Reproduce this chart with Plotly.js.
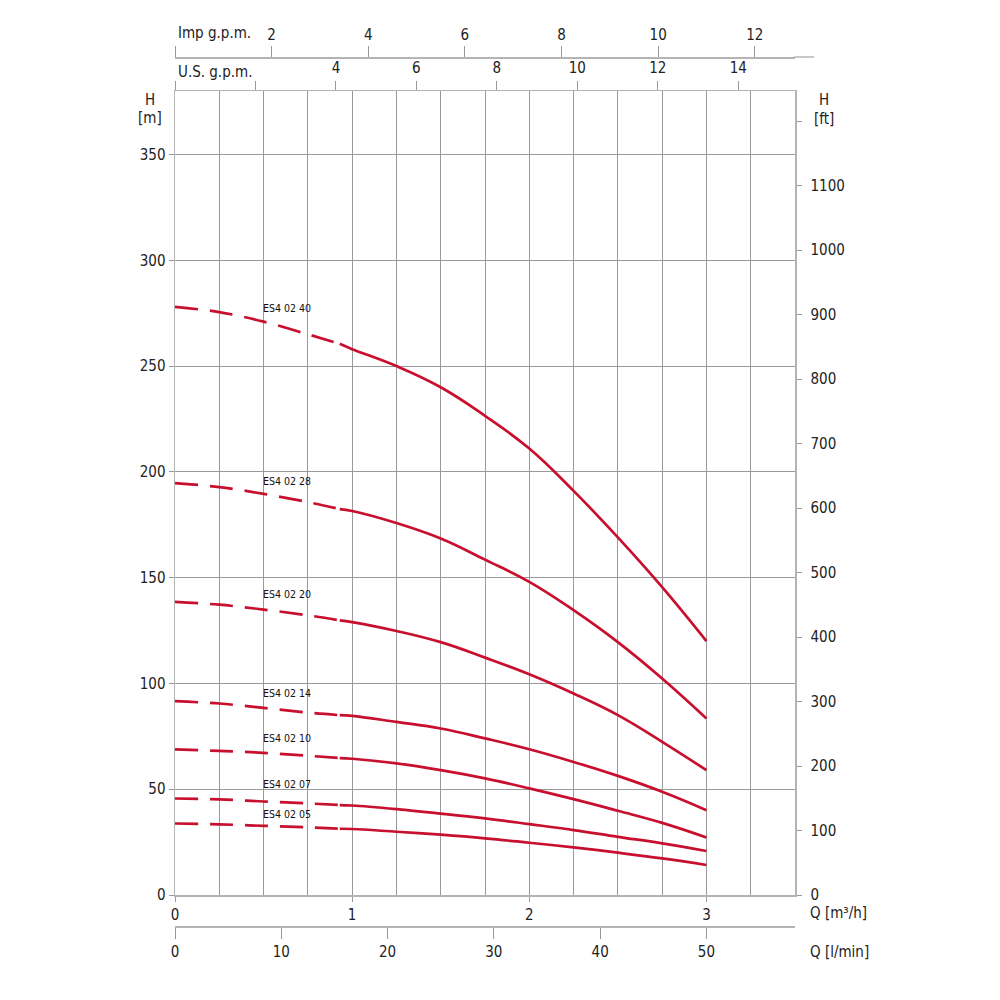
<!DOCTYPE html>
<html>
<head>
<meta charset="utf-8">
<script src="https://cdn.plot.ly/plotly-3.0.1.min.js"></script>
<style>
  html, body { margin: 0; padding: 0; background: #fff; }
  #chart { width: 1000px; height: 1000px; }
</style>
</head>
<body>
<div id="chart"></div>
<script>
// flow points, m3/h (dashed part runs up to 0.93)
var flowQ = [0, 0.25, 0.5, 0.75, 0.93, 1.0, 1.25, 1.5, 1.75, 2.0, 2.25, 2.5, 2.75, 3.0];
var splitAt = 4;

var pumpNames = ['ES4 02 40', 'ES4 02 28', 'ES4 02 20', 'ES4 02 14', 'ES4 02 10', 'ES4 02 07', 'ES4 02 05'];

// head, m
var h40 = [278, 275.5, 271, 265, 260.5, 258, 250, 240, 226.5, 211, 191, 169, 145.5, 120];
var h28 = [194.7, 192.8, 189.6, 185.7, 182.4, 181.5, 175.8, 168.5, 158.5, 148, 134.6, 119.5, 102.3, 83.4];
var h20 = [138.5, 137.2, 134.9, 132.2, 129.8, 129, 124.8, 119.5, 112.2, 104.3, 95.2, 85, 72.4, 59];
var h14 = [91.6, 90.5, 88.4, 86.2, 85.0, 84.7, 81.8, 78.7, 74, 68.9, 62.9, 56.3, 48.8, 40.1];
var h10 = [68.8, 68.1, 67.2, 65.8, 64.7, 64.4, 62.2, 59, 55.1, 50.4, 45.3, 39.8, 34.1, 27.2];
var h07 = [45.6, 45.2, 44.2, 43.3, 42.5, 42.3, 40.6, 38.5, 36.2, 33.5, 30.7, 27.5, 24.4, 20.8];
var h05 = [33.8, 33.4, 32.7, 32.0, 31.3, 31.2, 29.9, 28.5, 26.8, 24.7, 22.5, 20, 17.3, 14.2];
var heads = [h40, h28, h20, h14, h10, h07, h05];

// where the curve names sit (head, m)
var labelH = [277.4, 195.9, 142.3, 95.5, 74.2, 52.5, 38.3];

// axis ticks
var qTicks = [0, 1, 2, 3];
var lminTicks = [0, 10, 20, 30, 40, 50];
var hTicks = [0, 50, 100, 150, 200, 250, 300, 350];
var ftTicks = [0, 100, 200, 300, 400, 500, 600, 700, 800, 900, 1000, 1100, 1200];
var ftText = ['0', '100', '200', '300', '400', '500', '600', '700', '800', '900', '1000', '1100', ''];
var usTicks = [0, 2, 4, 6, 8, 10, 12, 14];
var usText = ['', '', '4', '6', '8', '10', '12', '14'];
var impTicks = [0, 2, 4, 6, 8, 10, 12];
var impText = ['', '2', '4', '6', '8', '10', '12'];

var Q_MAX = 3.5, H_MAX = 380;
var M_TO_FT = 3.28084, US_GPM = 0.2271247, IMP_GPM = 0.2727654;

var RED = '#c8102e';
var GRID = '#9a9a9a';
var EDGE = '#b4b4b4';
var FONT = 'Liberation Sans Narrow, DejaVu Sans Condensed, sans-serif';

// page pixels -> paper fractions (margins l175 r150 t40 b60)
function px(x) { return (x - 175) / 675; }
function py(y) { return (940 - y) / 900; }

var data = [];
heads.forEach(function (h, i) {
    data.push({
        x: flowQ.slice(0, splitAt + 1), y: h.slice(0, splitAt + 1),
        mode: 'lines', line: {color: RED, width: 2.7, dash: '23px,12px', shape: 'spline', smoothing: 1},
        name: pumpNames[i], showlegend: false, hoverinfo: 'skip'
    });
    data.push({
        x: flowQ.slice(splitAt), y: h.slice(splitAt),
        mode: 'lines', line: {color: RED, width: 2.7, shape: 'spline', smoothing: 1.2},
        name: pumpNames[i], showlegend: false
    });
});
// empty traces so the extra unit scales get drawn
[['x2', 'y'], ['x3', 'y'], ['x4', 'y'], ['x', 'y2']].forEach(function (p) {
    data.push({x: [], y: [], xaxis: p[0], yaxis: p[1], mode: 'lines', showlegend: false, hoverinfo: 'skip'});
});

var tickFont = {family: FONT, size: 15, color: '#222'};

var annotations = [];
pumpNames.forEach(function (n, i) {
    annotations.push({
        x: 0.5, y: labelH[i], xref: 'x', yref: 'y', text: n, showarrow: false,
        xanchor: 'left', yanchor: 'middle', xshift: -3,
        font: {family: FONT, size: 10.5, color: '#111'}
    });
});
function note(t, x, y, anchor) {
    annotations.push({x: px(x), y: py(y), xref: 'paper', yref: 'paper', text: t, showarrow: false,
        xanchor: anchor || 'left', yanchor: 'middle', font: tickFont});
}
note('H', 150, 100, 'center');
note('[m]', 150, 118, 'center');
note('H', 824, 100, 'center');
note('[ft]', 824, 119, 'center');
note('Imp g.p.m.', 176, 33);
note('U.S. g.p.m.', 176, 72);
note('Q [m\u00b3/h]', 808, 913);
note('Q [l/min]', 808, 952);

function extraAxis(o) {
    var base = {
        visible: true, showgrid: false, zeroline: false, ticks: 'outside', tickcolor: GRID,
        showline: true, linecolor: EDGE, linewidth: 1.5, tickfont: tickFont, autorange: false
    };
    for (var k in o) base[k] = o[k];
    return base;
}

var layout = {
    width: 1000, height: 1000,
    margin: {l: 175, r: 150, t: 40, b: 60},
    paper_bgcolor: '#fff', plot_bgcolor: '#fff',
    showlegend: false,
    font: tickFont,
    xaxis: {
        domain: [0, 620 / 675], range: [0, Q_MAX], anchor: 'y',
        tickvals: qTicks, showgrid: true, gridcolor: GRID, gridwidth: 1,
        minor: {dtick: 0.25, showgrid: true, gridcolor: GRID, gridwidth: 1},
        ticks: 'outside', ticklen: 5, tickcolor: GRID,
        showline: true, linecolor: EDGE, linewidth: 1.5, zeroline: false,
        tickfont: tickFont
    },
    xaxis2: extraAxis({
        overlaying: 'x', side: 'top', anchor: 'y', range: [0, Q_MAX / US_GPM],
        tickvals: usTicks, ticktext: usText, ticklen: 9, ticklabelstandoff: 2
    }),
    xaxis3: extraAxis({
        overlaying: 'x', side: 'top', anchor: 'free', position: py(57), range: [0, Q_MAX / IMP_GPM],
        tickvals: impTicks, ticktext: impText, ticklen: 11
    }),
    xaxis4: extraAxis({
        overlaying: 'x', side: 'bottom', anchor: 'free', position: py(926), range: [0, Q_MAX * 1000 / 60],
        tickvals: lminTicks, ticklen: 11
    }),
    yaxis: {
        domain: [py(895), py(91)], range: [0, H_MAX], anchor: 'x',
        tickvals: hTicks, showgrid: true, gridcolor: GRID, gridwidth: 1,
        ticks: 'outside', ticklen: 5, tickcolor: GRID,
        showline: true, linecolor: EDGE, linewidth: 1.5, zeroline: false,
        tickfont: tickFont
    },
    yaxis2: extraAxis({
        overlaying: 'y', side: 'right', anchor: 'x', range: [0, H_MAX * M_TO_FT],
        tickvals: ftTicks, ticktext: ftText, ticklen: 5, ticklabelstandoff: 6
    }),
    shapes: [
        // Imp g.p.m. scale runs a little past the plot frame
        {type: 'line', xref: 'paper', yref: 'paper', x0: px(794), x1: px(814), y0: py(57), y1: py(57),
         line: {color: EDGE, width: 1.5}}
    ],
    annotations: annotations
};

Plotly.newPlot('chart', data, layout, {displayModeBar: false, staticPlot: true});
</script>
</body>
</html>
